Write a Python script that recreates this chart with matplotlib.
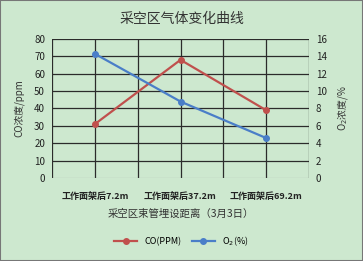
import matplotlib
matplotlib.use("Agg")
import matplotlib.pyplot as plt
import numpy as np

plt.rcParams['font.family'] = ['Noto Sans CJK SC', 'DejaVu Sans']

categories = ["工作面架后7.2m", "工作面架后37.2m", "工作面架后69.2m"]
co_ppm = [31, 68, 39]
o2_pct = [14.3, 8.8, 4.6]

bg = "#cde8cf"
red = "#c0504d"
blue = "#4a7ec8"
grid_c = "#2b2b2b"

fig = plt.figure(figsize=(3.63, 2.61), dpi=100, facecolor=bg)
ax = fig.add_axes([52/363, 1 - 178/261, (309-52)/363, (178-39)/261])
ax.set_facecolor(bg)
ax2 = ax.twinx()

x = np.arange(len(categories))
ax.plot(x, co_ppm, color=red, lw=1.6, marker="o", ms=4, label="CO(PPM)", zorder=3)
ax2.plot(x, o2_pct, color=blue, lw=1.6, marker="o", ms=4, label="O$_2$(%)", zorder=3)

ax.set_xlim(-0.5, 2.5)
ax.set_ylim(0, 80)
ax.set_yticks(range(0, 81, 10))
ax2.set_ylim(0, 16)
ax2.set_yticks(range(0, 17, 2))

for v in np.arange(-0.5, 2.51, 0.5):
    ax.axvline(v, color=grid_c, lw=0.9, zorder=1)
for v in range(10, 81, 10):
    ax.axhline(v, color=grid_c, lw=0.9, zorder=1)
ax.axhline(0, color="#888888", lw=0.8, zorder=1)

for a in (ax, ax2):
    for s in a.spines.values():
        s.set_visible(False)
    a.tick_params(length=0, labelsize=7, colors="#222222", pad=5)

ax.set_xticks(x)
ax.set_xticklabels(categories, fontsize=6.5, fontweight="bold")
ax.tick_params(axis="x", pad=10)
ax.set_xlabel("采空区束管埋设距离（3月3日）", fontsize=7.5, labelpad=6, color="#333333")
ax.set_ylabel("CO浓度/ppm", fontsize=7, color="#333333", labelpad=7)
ax2.set_ylabel("O$_2$浓度/%", fontsize=7, color="#333333", labelpad=6)

fig.suptitle("采空区气体变化曲线", fontsize=10, y=0.955, color="#333333")

h1, l1 = ax.get_legend_handles_labels()
h2, l2 = ax2.get_legend_handles_labels()
fig.legend(h1 + h2, l1 + l2, loc="center", bbox_to_anchor=(0.5, 1 - 241/261),
           ncol=2, frameon=False, fontsize=6.5, handlelength=2.5, columnspacing=1.2)

fig.patches.append(plt.Rectangle((0, 0), 1, 1, transform=fig.transFigure,
                                 fill=False, edgecolor="#777777", lw=1.5))

fig.savefig("out.png", dpi=100, facecolor=bg)
